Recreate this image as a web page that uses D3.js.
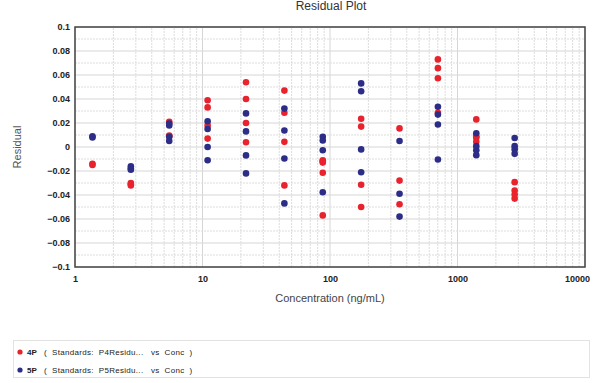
<!DOCTYPE html>
<html>
<head>
<meta charset="utf-8">
<script src="https://cdn.jsdelivr.net/npm/d3@7"></script>
<style>
  body { margin: 0; background: #fff; }
  svg { display: block; font-family: "Liberation Sans", Arial, sans-serif; }
</style>
</head>
<body>
<div id="chart"></div>
<script>
// concentrations (ng/mL) of the standards
const conc = [1.371, 2.742, 5.484, 10.97, 21.94, 43.88, 87.75, 175.5, 351, 702, 1404, 2808];

// residuals per standard, 4P fit
const res4P = [
  [-0.014, -0.015],
  [-0.03, -0.031, -0.032],
  [0.021, 0.0095, 0.009],
  [0.039, 0.033, 0.018, 0.007],
  [0.054, 0.040, 0.020, 0.004],
  [0.047, 0.0285, 0.0043, -0.032],
  [-0.011, -0.012, -0.013, -0.0215, -0.057],
  [0.0235, 0.017, -0.0315, -0.050],
  [0.0155, -0.028, -0.0477],
  [0.073, 0.0657, 0.0573, 0.0285],
  [0.023, 0.009, 0.0077, 0.0043],
  [-0.0293, -0.0363, -0.0396, -0.043],
];

// residuals per standard, 5P fit
const res5P = [
  [0.009, 0.008],
  [-0.016, -0.018, -0.019],
  [0.0195, 0.018, 0.0085, 0.005],
  [0.0215, 0.015, 0.0, -0.011],
  [0.028, 0.013, -0.007, -0.022],
  [0.032, 0.0137, -0.0096, -0.047],
  [0.0085, 0.0054, -0.0027, -0.0377],
  [0.053, 0.0465, -0.002, -0.021],
  [0.005, -0.039, -0.058],
  [0.0335, 0.027, 0.0187, -0.0104],
  [0.0115, 0.0007, -0.0027, -0.0068],
  [0.0075, 0.0007, -0.002, -0.0057],
];

const xTicks = [1, 10, 100, 1000, 10000];
const yTicks = [-0.1, -0.08, -0.06, -0.04, -0.02, 0, 0.02, 0.04, 0.06, 0.08, 0.1];

const seriesNames = ['4P', '5P'];
const seriesDesc = ['(  Standards:  P4Residu...   vs  Conc  )', '(  Standards:  P5Residu...   vs  Conc  )'];
const seriesColors = ['#e8232d', '#2b2d86'];

const width = 596;
const height = 383;
const margin = { top: 27, right: 11, bottom: 116, left: 75 };

const svg = d3.select('#chart')
  .append('svg')
  .attr('width', width)
  .attr('height', height);

const x = d3.scaleLog()
  .domain([1, 10000])
  .range([margin.left, width - margin.right]);

const y = d3.scaleLinear()
  .domain([-0.1, 0.1])
  .range([height - margin.bottom, margin.top]);

// grid: minor lines dotted, major lines solid
const minorX = [];
for (let d = 1; d < 10000; d *= 10) {
  for (let k = 2; k <= 9; k++) minorX.push(d * k);
}
const minorY = d3.range(-0.09, 0.1, 0.02);

const grid = svg.append('g').attr('class', 'grid');
grid.selectAll('line.minor-x')
  .data(minorX)
  .enter().append('line')
  .attr('x1', d => x(d)).attr('x2', d => x(d))
  .attr('y1', y(-0.1)).attr('y2', y(0.1))
  .attr('stroke', '#dcdcdc')
  .attr('stroke-dasharray', '2,1');

grid.selectAll('line.major-x')
  .data(xTicks)
  .enter().append('line')
  .attr('x1', d => x(d)).attr('x2', d => x(d))
  .attr('y1', y(-0.1)).attr('y2', y(0.1))
  .attr('stroke', '#d6d6d6');

grid.selectAll('line.minor-y')
  .data(minorY)
  .enter().append('line')
  .attr('x1', x(1)).attr('x2', x(10000))
  .attr('y1', d => y(d)).attr('y2', d => y(d))
  .attr('stroke', '#dcdcdc')
  .attr('stroke-dasharray', '2,1');

grid.selectAll('line.major-y')
  .data(yTicks)
  .enter().append('line')
  .attr('x1', x(1)).attr('x2', x(10000))
  .attr('y1', d => y(d)).attr('y2', d => y(d))
  .attr('stroke', '#d6d6d6');

// frame
svg.append('rect')
  .attr('x', x(1))
  .attr('y', y(0.1))
  .attr('width', x(10000) - x(1))
  .attr('height', y(-0.1) - y(0.1))
  .attr('fill', 'none')
  .attr('stroke', '#444')
  .attr('stroke-width', 1.5);

// axes
const xAxis = svg.append('g')
  .attr('transform', `translate(0,${y(-0.1)})`)
  .call(d3.axisBottom(x).tickValues(xTicks).tickFormat(d3.format('d')).tickSize(0).tickPadding(9));
xAxis.select('.domain').remove();
xAxis.selectAll('text')
  .attr('font-size', 9)
  .attr('font-weight', 'bold')
  .attr('fill', '#222');
// the last label sits inside the frame edge
xAxis.selectAll('.tick')
  .filter(d => d === 10000)
  .select('text')
  .attr('dx', -8);

const yAxis = svg.append('g')
  .attr('transform', `translate(${x(1)},0)`)
  .call(d3.axisLeft(y).tickValues(yTicks).tickFormat(d => (d === 0 ? '0' : d3.format('~g')(d))).tickSize(0).tickPadding(5));
yAxis.select('.domain').remove();
yAxis.selectAll('text')
  .attr('font-size', 9)
  .attr('font-weight', 'bold')
  .attr('fill', '#222');

// titles
svg.append('text')
  .attr('x', 331)
  .attr('y', 10)
  .attr('text-anchor', 'middle')
  .attr('font-size', 12)
  .attr('fill', '#333')
  .text('Residual Plot');

svg.append('text')
  .attr('x', 330)
  .attr('y', 302)
  .attr('text-anchor', 'middle')
  .attr('font-size', 11)
  .attr('fill', '#444')
  .text('Concentration (ng/mL)');

svg.append('text')
  .attr('transform', 'translate(21,147) rotate(-90)')
  .attr('text-anchor', 'middle')
  .attr('font-size', 11)
  .attr('fill', '#555')
  .text('Residual');

// points
[res4P, res5P].forEach((series, i) => {
  const pts = [];
  series.forEach((vals, j) => vals.forEach(v => pts.push({ c: conc[j], v })));
  svg.append('g')
    .selectAll('circle')
    .data(pts)
    .enter().append('circle')
    .attr('cx', d => x(d.c))
    .attr('cy', d => y(d.v))
    .attr('r', 3.3)
    .attr('fill', seriesColors[i]);
});

// legend
const legend = svg.append('g');
legend.append('rect')
  .attr('x', 13.5)
  .attr('y', 340.5)
  .attr('width', 576)
  .attr('height', 37)
  .attr('fill', '#fff')
  .attr('stroke', '#e2e2e2');

seriesNames.forEach((name, i) => {
  const ly = 352 + i * 18;
  legend.append('circle')
    .attr('cx', 20)
    .attr('cy', ly)
    .attr('r', 2.6)
    .attr('fill', seriesColors[i]);
  legend.append('text')
    .attr('x', 27)
    .attr('y', ly + 3)
    .attr('font-size', 8)
    .attr('font-weight', 'bold')
    .attr('fill', '#222')
    .text(name);
  legend.append('text')
    .attr('x', 44)
    .attr('y', ly + 3)
    .attr('font-size', 8)
    .attr('letter-spacing', 0.3)
    .attr('fill', '#222')
    .style('white-space', 'pre')
    .text(seriesDesc[i]);
});
</script>
</body>
</html>
